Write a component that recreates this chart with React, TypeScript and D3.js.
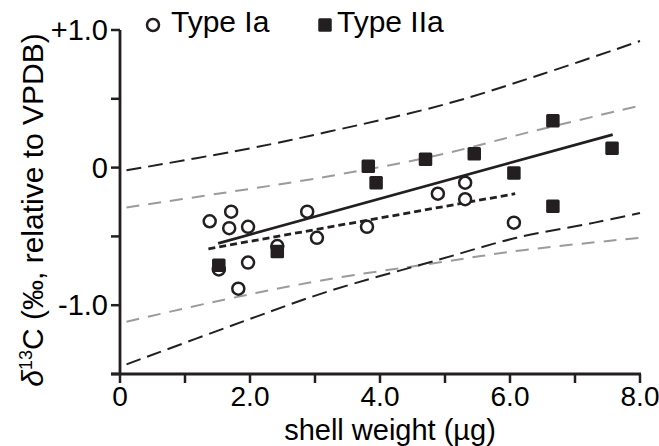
import React from "react";
import * as d3 from "d3";

// ---- data ----
const typeIaX = [1.38, 1.71, 1.68, 1.97, 2.88, 3.03, 2.42, 1.52, 1.97, 1.82, 3.8, 4.89, 5.31, 5.31, 6.06];
const typeIaY = [-0.39, -0.32, -0.44, -0.43, -0.32, -0.51, -0.57, -0.74, -0.69, -0.88, -0.43, -0.19, -0.11, -0.23, -0.4];

const typeIIaX = [1.52, 2.42, 3.82, 3.94, 4.7, 5.45, 6.06, 6.66, 6.66, 7.57];
const typeIIaY = [-0.71, -0.61, 0.01, -0.11, 0.06, 0.1, -0.04, 0.34, -0.28, 0.14];

// regression lines
const fitAllX = [1.51, 7.58];
const fitAllY = [-0.55, 0.24];
const fitIaX = [1.36, 6.08];
const fitIaY = [-0.59, -0.19];

// prediction bands (black) around overall fit
const blackUpperX = [0.1, 2.0, 3.2, 5.0, 6.5, 8.0];
const blackUpperY = [-0.02, 0.14, 0.26, 0.46, 0.68, 0.92];
const blackLowerX = [0.1, 2.0, 3.2, 4.9, 6.1, 7.3, 8.0];
const blackLowerY = [-1.43, -1.1, -0.9, -0.67, -0.51, -0.4, -0.33];

// prediction bands (grey) around Type Ia fit
const greyUpperX = [0.1, 1.5, 3.0, 4.8, 6.4, 8.0];
const greyUpperY = [-0.29, -0.19, -0.08, 0.08, 0.27, 0.45];
const greyLowerX = [0.1, 1.6, 3.1, 4.9, 6.2, 8.0];
const greyLowerY = [-1.12, -0.96, -0.82, -0.69, -0.6, -0.51];

const xTicks = [0, 1, 2, 3, 4, 5, 6, 7, 8];
const xLabelVals = [0, 2, 4, 6, 8];
const xLabelText = ["0", "2.0", "4.0", "6.0", "8.0"];
const yTicks = [-1.5, -1, -0.5, 0, 0.5, 1];
const yLabelVals = [1, 0, -1];
const yLabelText = ["+1.0", "0", "-1.0"];

const W = 659;
const H = 446;
const INK = "#231f20";
const FONT = "'Liberation Sans', Arial, Helvetica, sans-serif";

export default function App() {
  const x = d3.scaleLinear().domain([0, 8]).range([120, 640]);
  const y = d3.scaleLinear().domain([-1.5, 1]).range([374, 30]);

  const curve = (xs: number[], ys: number[]) =>
    d3
      .line<number>()
      .x((_, i) => x(xs[i]))
      .y((d) => y(d))
      .curve(d3.curveCatmullRom)(ys) || "";
  const straight = (xs: number[], ys: number[]) =>
    d3
      .line<number>()
      .x((_, i) => x(xs[i]))
      .y((d) => y(d))(ys) || "";

  const sq = 13.5;

  return (
    <svg
      width={W}
      height={H}
      style={{ position: "absolute", left: 0, top: 0, background: "#fff" }}
      fontFamily={FONT}
    >
      {/* bands */}
      <path d={curve(greyUpperX, greyUpperY)} fill="none" stroke="#9b9b9b" strokeWidth={2} strokeDasharray="13 9" />
      <path d={curve(greyLowerX, greyLowerY)} fill="none" stroke="#9b9b9b" strokeWidth={2} strokeDasharray="13 9" />
      <path d={curve(blackUpperX, blackUpperY)} fill="none" stroke={INK} strokeWidth={2} strokeDasharray="15 7" />
      <path d={curve(blackLowerX, blackLowerY)} fill="none" stroke={INK} strokeWidth={2} strokeDasharray="15 7" />

      {/* fits */}
      <path d={straight(fitAllX, fitAllY)} fill="none" stroke={INK} strokeWidth={2.8} />
      <path d={straight(fitIaX, fitIaY)} fill="none" stroke={INK} strokeWidth={2.8} strokeDasharray="7 4" />

      {/* Type Ia circles */}
      {typeIaY.map((v, i) => (
        <circle key={"c" + i} cx={x(typeIaX[i])} cy={y(v)} r={6} fill="#fff" stroke={INK} strokeWidth={2.5} />
      ))}
      {/* Type IIa squares */}
      {typeIIaY.map((v, i) => (
        <rect
          key={"s" + i}
          x={x(typeIIaX[i]) - sq / 2}
          y={y(v) - sq / 2}
          width={sq}
          height={sq}
          rx={1.5}
          fill={INK}
        />
      ))}

      {/* axes */}
      <line x1={x(0)} x2={x(0)} y1={y(1)} y2={y(-1.5)} stroke={INK} strokeWidth={2.8} />
      <line x1={x(0) - 9} x2={x(8) + 1} y1={y(-1.5)} y2={y(-1.5)} stroke={INK} strokeWidth={2.8} />
      {yTicks.map((t) => (
        <line key={"yt" + t} x1={x(0) - 9} x2={x(0)} y1={y(t)} y2={y(t)} stroke={INK} strokeWidth={2.5} />
      ))}
      {xTicks.map((t) => (
        <line key={"xt" + t} x1={x(t)} x2={x(t)} y1={y(-1.5)} y2={y(-1.5) + 9} stroke={INK} strokeWidth={2.5} />
      ))}
      {yLabelVals.map((v, i) => (
        <text key={"yl" + i} x={108} y={y(v) + 10} textAnchor="end" fontSize={29} fill="#000">
          {yLabelText[i]}
        </text>
      ))}
      {xLabelVals.map((v, i) => (
        <text key={"xl" + i} x={x(v)} y={406} textAnchor="middle" fontSize={28} fill="#000">
          {xLabelText[i]}
        </text>
      ))}

      {/* axis titles */}
      <text x={390} y={440} textAnchor="middle" fontSize={29} fill="#000">
        shell weight (µg)
      </text>
      <text transform="translate(43,210) rotate(-90)" textAnchor="middle" fontSize={30} fill="#000">
        <tspan fontStyle="italic">δ</tspan>
        <tspan fontSize={18} dy={-11}>13</tspan>
        <tspan dy={11}>C (‰, relative to VPDB)</tspan>
      </text>

      {/* legend */}
      <circle cx={153} cy={25} r={6} fill="#fff" stroke={INK} strokeWidth={2.5} />
      <text x={171} y={32} fontSize={30} fill="#000">Type Ia</text>
      <rect x={325 - sq / 2} y={25 - sq / 2} width={sq} height={sq} rx={1.5} fill={INK} />
      <text x={337} y={32} fontSize={30} fill="#000">Type IIa</text>
    </svg>
  );
}
